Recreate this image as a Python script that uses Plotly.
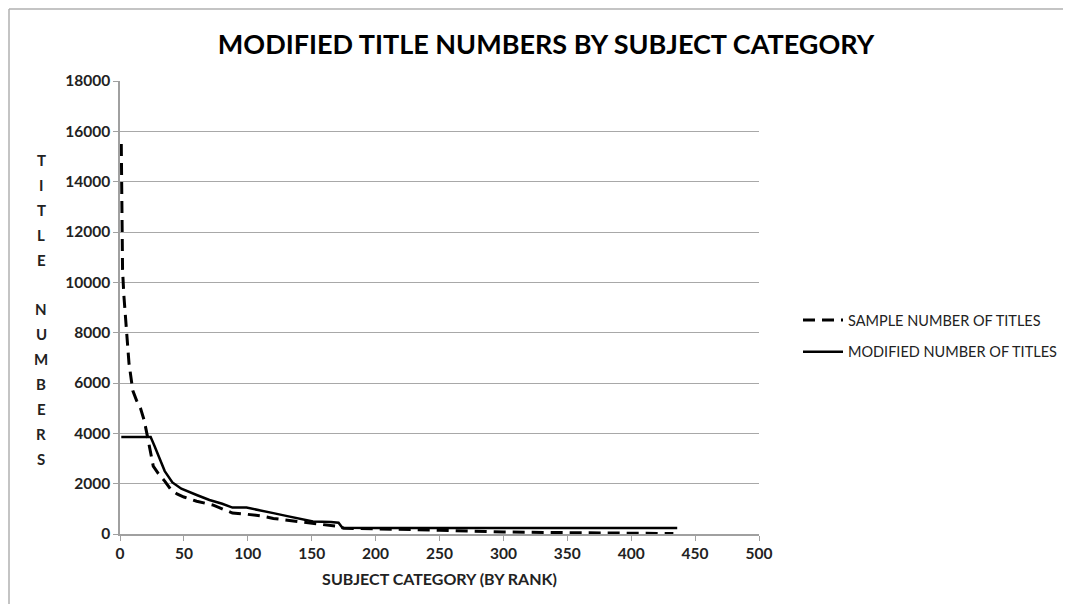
import plotly.graph_objects as go

# ---- data ----
sample_rank = [1, 2, 3, 5, 7, 10, 13, 16, 19, 21, 24, 26, 30, 35, 40, 45, 50, 60, 73, 88,
               100, 110, 120, 130, 140, 151, 160, 172, 175, 200, 250, 300, 350, 400, 433]
sample_titles = [15500, 10500, 9500, 8000, 6800, 5700, 5300, 5000, 4500, 4000, 3200, 2700,
                 2400, 2100, 1750, 1580, 1470, 1300, 1150, 830, 780, 720, 620, 560, 480, 430,
                 370, 290, 230, 210, 150, 80, 50, 20, 15]

modified_rank = [1, 24, 27, 31, 35, 41, 48, 60, 70, 80, 88, 99, 110, 120, 130, 138, 151, 165,
                 171, 174, 200, 300, 436]
modified_titles = [3850, 3850, 3500, 3000, 2500, 2050, 1800, 1550, 1350, 1200, 1050, 1050, 950,
                   830, 720, 640, 500, 480, 450, 250, 240, 240, 240]

series_names = ["SAMPLE NUMBER OF TITLES", "MODIFIED NUMBER OF TITLES"]
y_ticks = list(range(0, 18001, 2000))
x_ticks = list(range(0, 501, 50))
y_title_letters = ["T", "I", "T", "L", "E", "", "N", "U", "M", "B", "E", "R", "S"]

FONT = "Lato"
OFF = 8  # page body margin
W, H = 1071 - OFF, 612 - 2 * OFF
ML, MT = 120 - OFF, 81 - OFF
PR, PB = 759 - OFF, 534 - OFF
MR, MB = W - PR, H - PB
PW, PH = PR - ML, PB - MT


def px_x(p):
    return (p - OFF - ML) / PW


def px_y(p):
    return (PB - (p - OFF)) / PH


fig = go.Figure()
fig.add_trace(go.Scatter(x=sample_rank, y=sample_titles, mode="lines", name=series_names[0],
                         line=dict(color="black", width=3, dash="12px,7px"),
                         legendgroup="a"))
fig.add_trace(go.Scatter(x=modified_rank, y=modified_titles, mode="lines", name=series_names[1],
                         line=dict(color="black", width=2.5), legendgroup="b"))

annotations = []
for i, letter in enumerate(y_title_letters):
    if not letter:
        continue
    annotations.append(dict(text=f"<b>{letter}</b>", x=px_x(41), y=px_y(160 + i * 24.9),
                            xref="paper", yref="paper", showarrow=False,
                            font=dict(family=FONT, size=15, color="#222"),
                            xanchor="center", yanchor="middle"))

tickfont = dict(family=FONT, size=15.5, color="#222", weight="bold")
border = dict(color="#b0b0b0", width=1.5)

fig.update_layout(
    width=W, height=H,
    margin=dict(l=ML, r=MR, t=MT, b=MB, autoexpand=False),
    paper_bgcolor="white", plot_bgcolor="white",
    font=dict(family=FONT, color="#222"),
    title=dict(text="<b>MODIFIED TITLE NUMBERS BY SUBJECT CATEGORY</b>",
               xref="container", x=(546 - OFF) / W, xanchor="center",
               yref="container", y=1 - (45 - OFF) / H, yanchor="middle",
               font=dict(family=FONT, size=27, color="black")),
    xaxis=dict(range=[0, 500], tickvals=x_ticks, tickformat="d", showgrid=False,
               zeroline=False, showline=True, linecolor="#a0a0a0", linewidth=1.5,
               ticks="outside", ticklen=5, tickcolor="#a0a0a0", tickfont=tickfont,
               title=dict(text="<b>SUBJECT CATEGORY (BY RANK)</b>", standoff=12,
                          font=dict(family=FONT, size=16, color="#222"))),
    yaxis=dict(range=[0, 18000], tickvals=y_ticks, tickformat="d", showgrid=True,
               gridcolor="#a8a8a8", gridwidth=1.3, zeroline=False, showline=True,
               linecolor="#a0a0a0", linewidth=1.5, ticks="outside", ticklen=5,
               tickcolor="#a0a0a0", tickfont=tickfont),
    legend=dict(x=px_x(798), y=px_y(304), xanchor="left", yanchor="top",
                font=dict(family=FONT, size=14.5, color="#222"),
                tracegroupgap=10, bgcolor="rgba(0,0,0,0)", itemwidth=40),
    annotations=annotations,
    shapes=[
        dict(type="line", xref="paper", yref="paper",
             x0=px_x(9), x1=px_x(1100), y0=px_y(9), y1=px_y(9), line=border, layer="below"),
        dict(type="line", xref="paper", yref="paper",
             x0=px_x(9), x1=px_x(9), y0=px_y(9), y1=px_y(700), line=border, layer="below"),
    ],
)

fig.write_html("out.html")
